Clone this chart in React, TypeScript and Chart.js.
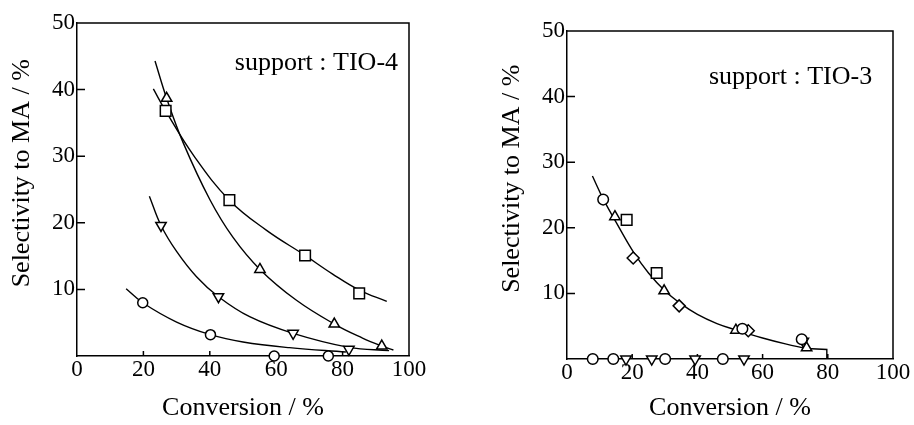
import React, { useEffect, useRef } from 'react';
import { Chart, registerables } from 'chart.js';

Chart.register(...registerables);

const FONT = '"Liberation Serif", "Times New Roman", Times, serif';

// ---- shared axis data ----
const xTickValues = [0, 20, 40, 60, 80, 100];
const yTickValues = [10, 20, 30, 40, 50];
const xTitle = 'Conversion / %';
const yTitle = 'Selectivity to MA / %';

// ---- left panel: support TIO-4 ----
const tio4Label = 'support : TIO-4';
const tio4SquareX = [26.7, 45.9, 68.7, 85.0];
const tio4SquareY = [36.8, 23.4, 15.1, 9.4];
const tio4TriUpX = [27.0, 55.1, 77.5, 91.8];
const tio4TriUpY = [38.7, 13.0, 4.8, 1.5];
const tio4TriDownX = [25.3, 42.6, 65.1, 81.9];
const tio4TriDownY = [19.6, 8.9, 3.4, 1.0];
const tio4CircleX = [19.8, 40.2, 59.4, 75.7];
const tio4CircleY = [8.0, 3.2, 0.0, 0.0];
// fitted curves
const tio4SquareFitX = [23.0, 26.7, 35.0, 45.9, 57.0, 68.7, 77.0, 85.0, 93.3];
const tio4SquareFitY = [40.1, 36.8, 30.2, 23.4, 18.9, 15.1, 12.3, 9.9, 8.2];
const tio4TriUpFitX = [23.5, 27.0, 32.0, 40.0, 47.0, 55.1, 66.0, 77.5, 86.0, 91.8, 95.3];
const tio4TriUpFitY = [44.3, 38.7, 32.0, 23.5, 17.8, 13.0, 8.4, 4.8, 2.7, 1.5, 0.9];
const tio4TriDownFitX = [21.8, 25.3, 30.0, 36.0, 42.6, 52.0, 65.1, 81.9, 94.0];
const tio4TriDownFitY = [24.0, 19.6, 15.7, 11.9, 8.9, 5.9, 3.4, 1.3, 0.8];
const tio4CircleFitX = [14.8, 19.8, 30.0, 40.2, 50.0, 64.0, 81.0];
const tio4CircleFitY = [10.1, 8.0, 5.1, 3.2, 2.1, 1.25, 0.6];

// ---- right panel: support TIO-3 ----
const tio3Label = 'support : TIO-3';
const tio3CircleX = [11.1, 53.8, 72.0];
const tio3CircleY = [24.3, 4.6, 3.0];
const tio3TriUpX = [14.7, 29.8, 51.8, 73.5];
const tio3TriUpY = [21.7, 10.4, 4.4, 1.7];
const tio3SquareX = [18.3, 27.5];
const tio3SquareY = [21.2, 13.1];
const tio3DiamondX = [20.3, 34.4, 55.6];
const tio3DiamondY = [15.4, 8.1, 4.3];
const tio3TriDownX = [72.5];
const tio3TriDownY = [2.7];
const tio3ZeroCircleX = [7.9, 14.2, 30.1, 47.8];
const tio3ZeroCircleY = [0, 0, 0, 0];
const tio3ZeroTriDownX = [18.1, 26.0, 39.3, 54.3];
const tio3ZeroTriDownY = [0, 0, 0, 0];
const tio3FitX = [7.8, 11.1, 15.0, 20.5, 25.0, 30.0, 35.0, 40.0, 46.0, 52.0, 60.0, 67.0, 73.5];
const tio3FitY = [27.9, 24.4, 20.9, 16.2, 13.1, 10.4, 8.4, 6.8, 5.4, 4.4, 3.2, 2.3, 1.6];
const tio3FitEndX = [73.5, 79.7, 79.7];
const tio3FitEndY = [1.6, 1.45, 0];

function pts(xs: number[], ys: number[]) {
  return xs.map((x, i) => ({ x, y: ys[i] }));
}

function markers(xs: number[], ys: number[], style: string, radius: number, rotation = 0) {
  return {
    data: pts(xs, ys),
    showLine: false,
    pointStyle: style,
    pointRadius: radius,
    pointHoverRadius: radius,
    pointRotation: rotation,
    pointBackgroundColor: '#fff',
    pointBorderColor: '#000',
    pointBorderWidth: 1.5,
    clip: false,
    order: 0,
  };
}

function curve(xs: number[], ys: number[], smooth = true) {
  return {
    data: pts(xs, ys),
    showLine: true,
    pointRadius: 0,
    pointHoverRadius: 0,
    borderColor: '#000',
    borderWidth: 1.4,
    cubicInterpolationMode: 'default',
    tension: smooth ? 0.4 : 0,
    fill: false,
    clip: false,
    order: 1,
  };
}

const frameAndLabelPlugin = {
  id: 'panelFrame',
  beforeDatasetsDraw(chart: any) {
    const { ctx, chartArea: a, scales } = chart;
    ctx.save();
    ctx.strokeStyle = '#000';
    ctx.lineWidth = 1.5;
    ctx.beginPath();
    ctx.moveTo(a.left, a.top);
    ctx.lineTo(a.right, a.top);
    ctx.lineTo(a.right, a.bottom);
    for (const v of yTickValues) {
      if (v >= 50) continue;
      const y = scales.y.getPixelForValue(v);
      ctx.moveTo(a.left, y);
      ctx.lineTo(a.left + 8, y);
    }
    for (const v of xTickValues) {
      if (v <= 0 || v >= 100) continue;
      const x = scales.x.getPixelForValue(v);
      ctx.moveTo(x, a.bottom);
      ctx.lineTo(x, a.bottom - 5);
    }
    ctx.stroke();
    ctx.restore();
  },
  afterDatasetsDraw(chart: any, _args: any, opts: any) {
    const { ctx, scales } = chart;
    if (!opts || !opts.text) return;
    ctx.save();
    ctx.font = `26px ${FONT}`;
    ctx.fillStyle = '#000';
    ctx.textAlign = 'right';
    ctx.textBaseline = 'middle';
    ctx.fillText(opts.text, scales.x.getPixelForValue(opts.x), scales.y.getPixelForValue(opts.y));
    ctx.restore();
  },
};

type PanelProps = {
  datasets: any[];
  label: string;
  labelX: number;
  labelY: number;
  padRight: number;
  padTop: number;
  yWidth: number;
  xHeight: number;
  yTitlePad: number;
};

function Panel(p: PanelProps) {
  const ref = useRef<HTMLCanvasElement | null>(null);
  useEffect(() => {
    if (!ref.current) return;
    const chart = new Chart(ref.current, {
      type: 'scatter',
      data: { datasets: p.datasets as any },
      plugins: [frameAndLabelPlugin as any],
      options: {
        responsive: false,
        animation: false,
        events: [],
        layout: { padding: { left: 0, right: p.padRight, top: p.padTop, bottom: 0 } },
        plugins: {
          legend: { display: false },
          tooltip: { enabled: false },
          panelFrame: { text: p.label, x: p.labelX, y: p.labelY },
        } as any,
        scales: {
          x: {
            type: 'linear',
            min: 0,
            max: 100,
            afterBuildTicks: (s: any) => {
              s.ticks = xTickValues.map((v) => ({ value: v }));
            },
            afterFit: (s: any) => {
              s.height = p.xHeight;
            },
            ticks: {
              color: '#000',
              font: { family: FONT, size: 23 },
              padding: 0,
              maxRotation: 0,
              autoSkip: false,
            },
            grid: { display: false, drawTicks: false, drawOnChartArea: false },
            border: { display: true, color: '#000', width: 1.5 },
            title: {
              display: true,
              text: xTitle,
              color: '#000',
              font: { family: FONT, size: 26 },
              padding: { top: 0, bottom: 1 },
            },
          },
          y: {
            type: 'linear',
            min: 0,
            max: 50,
            afterBuildTicks: (s: any) => {
              s.ticks = yTickValues.map((v) => ({ value: v }));
            },
            afterFit: (s: any) => {
              s.width = p.yWidth;
            },
            ticks: {
              color: '#000',
              font: { family: FONT, size: 23 },
              padding: 2,
              autoSkip: false,
            },
            grid: { display: false, drawTicks: false, drawOnChartArea: false },
            border: { display: true, color: '#000', width: 1.5 },
            title: {
              display: true,
              text: '     ' + yTitle,
              color: '#000',
              font: { family: FONT, size: 26 },
              padding: { top: p.yTitlePad, bottom: 0 },
            },
          },
        },
      } as any,
    });
    return () => chart.destroy();
  }, []);
  return <canvas ref={ref} width={457} height={425} style={{ display: 'block', width: 457, height: 425 }} />;
}

const tio4Datasets = [
  markers(tio4SquareX, tio4SquareY, 'rect', 7.5),
  markers(tio4TriUpX, tio4TriUpY, 'triangle', 6),
  markers(tio4TriDownX, tio4TriDownY, 'triangle', 6, 180),
  markers(tio4CircleX, tio4CircleY, 'circle', 5),
  curve(tio4SquareFitX, tio4SquareFitY),
  curve(tio4TriUpFitX, tio4TriUpFitY),
  curve(tio4TriDownFitX, tio4TriDownFitY),
  curve(tio4CircleFitX, tio4CircleFitY),
];

const tio3Datasets = [
  markers(tio3CircleX, tio3CircleY, 'circle', 5.3),
  markers(tio3TriUpX, tio3TriUpY, 'triangle', 6),
  markers(tio3SquareX, tio3SquareY, 'rect', 7.5),
  markers(tio3DiamondX, tio3DiamondY, 'rectRot', 6),
  markers(tio3TriDownX, tio3TriDownY, 'triangle', 6, 180),
  markers(tio3ZeroCircleX, tio3ZeroCircleY, 'circle', 5.3),
  markers(tio3ZeroTriDownX, tio3ZeroTriDownY, 'triangle', 6, 180),
  curve(tio3FitX, tio3FitY),
  curve(tio3FitEndX, tio3FitEndY, false),
];

export default function App() {
  return (
    <div
      style={{
        position: 'absolute',
        left: 0,
        top: 0,
        width: 914,
        height: 425,
        display: 'flex',
        background: '#fff',
      }}
    >
      <Panel
        datasets={tio4Datasets}
        label={tio4Label}
        labelX={96.7}
        labelY={44.0}
        padRight={48}
        padTop={23}
        yWidth={77}
        xHeight={69}
        yTitlePad={6.5}
      />
      <Panel
        datasets={tio3Datasets}
        label={tio3Label}
        labelX={93.6}
        labelY={43.0}
        padRight={21}
        padTop={31}
        yWidth={110}
        xHeight={66}
        yTitlePad={40}
      />
    </div>
  );
}
